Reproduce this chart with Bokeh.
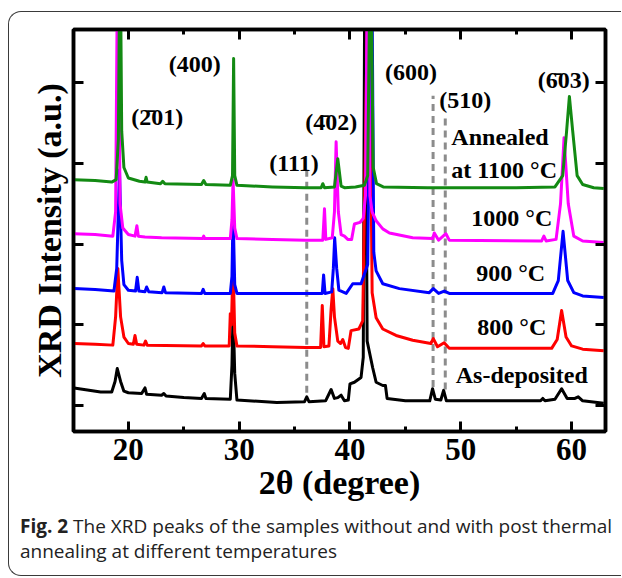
from bokeh.plotting import figure
from bokeh.layouts import column
from bokeh.models import ColumnDataSource, FixedTicker, LinearAxis, Range1d, Div
from bokeh.core.properties import value
from bokeh.embed import file_html
from bokeh.resources import INLINE

# ---------------- data (2theta in degree, intensity in a.u., curves offset) -------------
X_TICKS = [20, 30, 40, 50, 60]
X_MINOR = [25, 35, 45, 55]
Y_TICKS = [0, 1, 2, 3, 4]

AS_DEP_X = [15.1, 16.0, 17.5, 18.5, 18.8, 19.0, 19.3, 19.6, 20.0, 21.2, 21.5, 21.65,
            23.0, 23.2, 23.4, 25.0, 26.6, 26.85, 27.0, 29.2, 29.35, 29.45, 29.6, 29.8,
            33.4, 35.9, 36.1, 36.3, 37.8, 38.3, 38.6, 38.9, 39.2, 39.5, 39.85, 40.0,
            40.4, 41.0, 41.2, 41.35, 41.55, 42.05, 42.36, 42.96, 43.2, 43.35, 45.0,
            47.2, 47.45, 47.7, 48.2, 48.45, 48.7, 55.0, 57.2, 57.4, 57.6, 58.5, 59.1,
            59.6, 60.3, 60.6, 61.0, 62.9]
AS_DEP_Y = [0.22, 0.20, 0.17, 0.17, 0.30, 0.46, 0.30, 0.18, 0.16, 0.15, 0.22, 0.14,
            0.13, 0.15, 0.12, 0.10, 0.09, 0.15, 0.09, 0.08, 0.50, 1.20, 0.40, 0.07,
            0.04, 0.05, 0.11, 0.05, 0.06, 0.20, 0.09, 0.10, 0.13, 0.06, 0.07, 0.27,
            0.29, 0.35, 0.60, 6.00, 0.80, 0.47, 0.29, 0.25, 0.25, 0.09, 0.06,
            0.06, 0.21, 0.08, 0.07, 0.19, 0.06, 0.06, 0.06, 0.09, 0.06, 0.08, 0.21,
            0.09, 0.09, 0.11, 0.06, 0.03]

T800_X = [15.1, 17.0, 18.6, 18.85, 19.05, 19.3, 19.6, 20.0, 20.45, 20.6, 20.75, 21.4,
          21.55, 21.7, 26.6, 26.75, 26.9, 29.1, 29.2, 29.3, 29.45, 29.6, 29.8, 33.0,
          36.0, 37.35, 37.5, 37.65, 38.1, 38.3, 38.45, 38.6, 38.9, 39.15, 39.35, 39.6,
          39.85, 40.1, 40.8, 41.15, 41.7, 42.0, 42.36, 42.96, 44.16, 45.66, 47.3,
          47.52, 47.9, 48.5, 48.96, 58.2, 58.7, 59.1, 59.5, 60.0, 61.0, 62.9]
T800_Y = [0.77, 0.76, 0.75, 1.10, 1.70, 1.10, 0.85, 0.77, 0.76, 0.87, 0.76, 0.75,
          0.80, 0.75, 0.74, 0.77, 0.74, 0.74, 1.14, 1.00, 1.77, 0.90, 0.74, 0.73,
          0.72, 0.72, 1.24, 0.73, 0.74, 1.20, 1.45, 1.10, 0.80, 0.77, 0.82, 0.72,
          0.71, 0.93, 0.95, 1.05, 6.00, 1.40, 1.09, 0.95, 0.87, 0.81, 0.77,
          0.83, 0.73, 0.78, 0.71, 0.71, 0.82, 1.18, 0.85, 0.74, 0.70, 0.68]

T900_X = [15.1, 17.0, 18.7, 18.95, 19.2, 19.4, 19.6, 20.0, 20.65, 20.8, 20.95, 21.5,
          21.65, 21.85, 23.05, 23.2, 23.35, 26.6, 26.75, 26.9, 29.2, 29.35, 29.45, 29.6,
          29.8, 36.0, 37.5, 37.62, 37.75, 38.35, 38.5, 38.62, 38.8, 39.0, 39.66, 40.25,
          41.0, 41.6, 41.95, 42.15, 42.36, 42.96, 44.46, 47.16, 47.52, 48.0, 48.51,
          48.96, 58.3, 58.8, 59.23, 59.65, 60.2, 61.0, 62.9]
T900_Y = [1.45, 1.44, 1.42, 1.70, 2.92, 1.80, 1.50, 1.43, 1.42, 1.59, 1.42, 1.41,
          1.47, 1.41, 1.40, 1.47, 1.40, 1.39, 1.44, 1.39, 1.39, 1.60, 2.40, 1.50,
          1.39, 1.39, 1.39, 1.62, 1.39, 1.41, 1.70, 2.08, 1.70, 1.43, 1.39, 1.51,
          1.51, 1.75, 6.00, 1.90, 1.67, 1.51, 1.45, 1.40, 1.45, 1.39, 1.42,
          1.39, 1.39, 1.55, 2.16, 1.55, 1.40, 1.36, 1.34]

T1000_X = [15.1, 17.0, 18.6, 18.85, 19.05, 19.25, 19.5, 20.0, 20.6, 20.77, 20.9, 21.5,
           23.0, 26.7, 26.8, 26.9, 29.2, 29.35, 29.45, 29.6, 29.8, 33.0, 36.0, 37.55,
           37.7, 37.82, 38.4, 38.6, 38.75, 38.95, 39.2, 39.5, 39.8, 40.15, 40.4, 40.9,
           41.2, 41.4, 41.6, 41.8, 42.0, 42.36, 42.96, 43.56, 45.66, 47.46, 47.61,
           48.0, 48.66, 48.96, 57.3, 57.5, 57.7, 58.6, 59.0, 59.32, 59.7, 60.2, 61.0,
           62.9]
T1000_Y = [2.13, 2.12, 2.10, 2.40, 6.00, 2.50, 2.20, 2.12, 2.10, 2.23, 2.10, 2.09,
           2.08, 2.07, 2.10, 2.07, 2.07, 2.30, 2.80, 2.20, 2.07, 2.06, 2.05, 2.05,
           2.44, 2.06, 2.08, 2.40, 3.27, 2.40, 2.12, 2.10, 2.06, 2.06, 2.25, 2.27,
           2.32, 2.60, 6.00, 2.60, 2.40, 2.29, 2.19, 2.14, 2.08, 2.07, 2.14,
           2.05, 2.13, 2.05, 2.04, 2.10, 2.04, 2.06, 2.50, 3.32, 2.50, 2.10, 2.04,
           2.02]

T1100_X = [15.1, 17.0, 18.5, 18.9, 19.1, 19.25, 19.4, 19.6, 20.0, 21.0, 21.5, 21.6,
           21.7, 22.9, 23.1, 23.3, 26.6, 26.8, 27.0, 29.2, 29.4, 29.5, 29.6, 29.8,
           33.0, 36.0, 37.4, 37.55, 37.7, 38.6, 38.9, 39.2, 39.5, 40.5, 41.3, 41.6,
           41.85, 42.1, 42.4, 43.0, 47.0, 50.0, 55.0, 58.5, 59.2, 59.55, 59.8, 60.1,
           60.5, 61.0, 62.0, 62.9]
T1100_Y = [2.80, 2.79, 2.77, 2.80, 3.30, 6.00, 3.40, 2.95, 2.82, 2.78, 2.77, 2.83,
           2.77, 2.75, 2.78, 2.75, 2.74, 2.79, 2.74, 2.73, 2.85, 4.30, 2.85, 2.73,
           2.71, 2.70, 2.70, 2.75, 2.70, 2.71, 3.06, 2.72, 2.70, 2.71, 2.73, 2.85,
           6.00, 2.95, 2.75, 2.71, 2.70, 2.70, 2.70, 2.71, 2.85, 3.40, 3.83, 3.40,
           2.85, 2.74, 2.70, 2.69]

PLANE_X = [36.1, 47.5, 48.6]          # (111), (600), (510) reference lines
PLANE_TOP = [2.91, 3.84, 3.62]
PLANE_BOTTOM = [0.16, 0.23, 0.20]

PEAK_LABELS = ["(400)", "(\u0032\u030401)", "(\u0034\u030402)", "(111)", "(600)", "(510)",
               "(\u0036\u030403)"]
PEAK_LABEL_X = [26.0, 22.6, 38.3, 34.95, 45.5, 50.4, 59.3]
PEAK_LABEL_Y = [4.23, 3.58, 3.52, 3.01, 4.13, 3.79, 4.03]

SAMPLE_LABELS = ["1000 \u00b0C", "900 \u00b0C", "800 \u00b0C", "As-deposited"]
SAMPLE_LABEL_X = [54.6, 54.5, 54.6, 55.5]
SAMPLE_LABEL_Y = [2.33, 1.64, 0.97, 0.38]
ANNEAL_LINES = ["Annealed", "at 1100 \u00b0C"]
ANNEAL_X = [49.15, 49.15]
ANNEAL_Y = [3.33, 2.92]

CAPTION_BOLD = "Fig. 2"
CAPTION_1 = "The XRD peaks of the samples without and with post thermal"
CAPTION_2 = "annealing at different temperatures"

# ---------------- chart ----------------
SERIF = value("Liberation Serif")

p = figure(width=612, height=506, output_backend="svg", toolbar_location=None,
           x_range=Range1d(15.05, 63.06), y_range=Range1d(-0.32, 4.66),
           min_border_left=64, min_border_right=16, min_border_top=17,
           min_border_bottom=87, x_axis_location=None, y_axis_location=None)
p.grid.visible = False
p.outline_line_color = "black"
p.outline_line_width = 3.5
p.background_fill_color = "white"
p.border_fill_alpha = 0


def style_axis(ax, ticks, minor, show_labels):
    ax.ticker = FixedTicker(ticks=ticks, minor_ticks=minor)
    ax.axis_line_width = 3.5
    ax.axis_line_color = "black"
    ax.major_tick_in = 10
    ax.major_tick_out = 0
    ax.minor_tick_in = 5
    ax.minor_tick_out = 0
    ax.major_tick_line_width = 3
    ax.minor_tick_line_width = 3
    if not show_labels:
        ax.major_label_text_font_size = "1px"
        ax.major_label_text_color = None
        ax.major_label_text_alpha = 0
        ax.major_label_standoff = 0


xb = LinearAxis(axis_label="2\u03b8 (degree)")
style_axis(xb, X_TICKS, X_MINOR, True)
xb.major_label_text_font = "Liberation Serif"
xb.major_label_text_font_style = "bold"
xb.major_label_text_font_size = "31px"
xb.major_label_text_color = "black"
xb.major_label_standoff = 7
xb.axis_label_text_font = "Liberation Serif"
xb.axis_label_text_font_style = "bold"
xb.axis_label_text_font_size = "34px"
xb.axis_label_text_color = "black"
xb.axis_label_standoff = 1
p.add_layout(xb, "below")

xt = LinearAxis()
style_axis(xt, X_TICKS, X_MINOR, False)
p.add_layout(xt, "above")

yl = LinearAxis(axis_label="XRD Intensity (a.u.)")
style_axis(yl, Y_TICKS, [], False)
yl.axis_label_text_font = "Liberation Serif"
yl.axis_label_text_font_style = "bold"
yl.axis_label_text_font_size = "34px"
yl.axis_label_text_color = "black"
yl.axis_label_standoff = 6
p.add_layout(yl, "left")

yr = LinearAxis()
style_axis(yr, Y_TICKS, [], False)
p.add_layout(yr, "right")

# reference lines
p.segment(x0=PLANE_X, y0=PLANE_BOTTOM, x1=PLANE_X, y1=PLANE_TOP,
          line_color="#8c8c8c", line_width=3, line_dash="7 5")

# spectra
LW = 3
p.line(AS_DEP_X, AS_DEP_Y, line_color="black", line_width=LW, line_join="round")
p.line(T800_X, T800_Y, line_color="#ff0000", line_width=LW, line_join="round")
p.line(T900_X, T900_Y, line_color="#0000ff", line_width=LW, line_join="round")
p.line(T1000_X, T1000_Y, line_color="#ff00ff", line_width=LW, line_join="round")
p.line(T1100_X, T1100_Y, line_color="#138a13", line_width=LW, line_join="round")

# labels
src_peaks = ColumnDataSource(dict(x=PEAK_LABEL_X, y=PEAK_LABEL_Y, t=PEAK_LABELS))
p.text(x="x", y="y", text="t", source=src_peaks, text_font=SERIF,
       text_font_style="bold", text_font_size="24px", text_align="center",
       text_baseline="middle", text_color="black")
src_samples = ColumnDataSource(dict(x=SAMPLE_LABEL_X, y=SAMPLE_LABEL_Y, t=SAMPLE_LABELS))
p.text(x="x", y="y", text="t", source=src_samples, text_font=SERIF,
       text_font_style="bold", text_font_size="24px", text_align="center",
       text_baseline="middle", text_color="black")
src_anneal = ColumnDataSource(dict(x=ANNEAL_X, y=ANNEAL_Y, t=ANNEAL_LINES))
p.text(x="x", y="y", text="t", source=src_anneal, text_font=SERIF,
       text_font_style="bold", text_font_size="24px", text_align="left",
       text_baseline="middle", text_color="black")

# ---------------- caption ----------------
caption_html = (
    '<div style="position:relative; top:-4px; left:11px; '
    "font-family:'Open Sans', sans-serif; font-size:19px; line-height:25px; "
    'color:#222222; white-space:nowrap;">'
    f"<b>{CAPTION_BOLD}</b> {CAPTION_1}<br>{CAPTION_2}</div>"
)
cap = Div(text=caption_html, width=612, height=57, margin=0)

BORDER = "1.5px solid #3a3a3a"
root = column(p, cap, spacing=0, margin=(11, 0, 0, 8),
              styles={"border-top": BORDER, "border-left": BORDER,
                      "border-bottom": BORDER, "border-radius": "13px 0 0 13px",
                      "box-sizing": "content-box"})

open("out.html", "w").write(file_html(root, INLINE))
